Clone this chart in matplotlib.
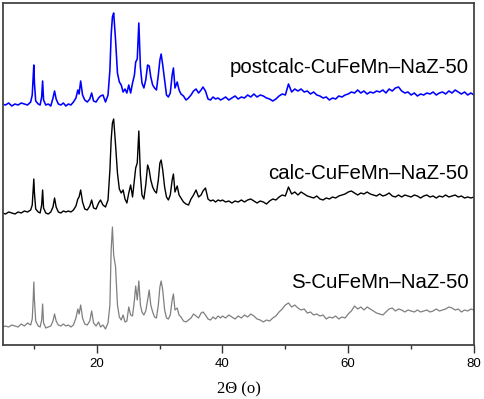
import numpy as np
import matplotlib
matplotlib.use("Agg")
import matplotlib.pyplot as plt
from matplotlib.ticker import MultipleLocator

# ---- data (2-theta in degrees, intensity in arbitrary offset units) ----
two_theta_low = [
    5.0, 5.5, 6.0, 6.5, 7.0, 7.5, 8.0, 8.5, 9.0, 9.5,
    9.75, 9.9, 10.0, 10.1, 10.3, 10.7, 11.0, 11.25, 11.4, 11.55,
    11.9, 12.3, 12.7, 13.05, 13.3, 13.55, 13.9, 14.3, 14.7, 15.1,
    15.5, 15.9, 16.3, 16.7, 17.0, 17.2, 17.45, 17.75, 18.1, 18.5,
    18.9, 19.2, 19.5, 19.9, 20.3, 20.6, 21.0, 21.4, 21.8, 22.1,
    22.3, 22.5, 22.7, 23.0, 23.3, 23.6, 23.9, 24.2, 24.5, 24.8,
    25.1, 25.4, 25.7, 26.0, 26.2, 26.45, 26.7, 26.95, 27.2, 27.5,
    27.8, 28.1, 28.35, 28.6, 28.9, 29.2, 29.5, 29.8, 30.05, 30.25,
    30.5, 30.8, 31.1, 31.4, 31.7, 32.0, 32.2, 32.45, 32.8, 33.1,
    33.4, 33.8, 34.2, 34.6, 35.0, 35.4, 35.8, 36.2, 36.6, 36.9,
    37.3, 37.7, 38.1, 38.5, 38.9, 39.3, 39.7,
]
two_theta_high = [
    40.0, 40.5, 41.0, 41.5, 42.0, 42.5, 43.0, 43.5, 44.0, 44.5,
    45.0, 45.5, 46.0, 46.5, 47.0, 47.5, 48.0, 48.5, 49.0, 49.5,
    50.0, 50.5, 51.0, 51.5, 52.0, 52.5, 53.0, 53.5, 54.0, 54.5,
    55.0, 55.5, 56.0, 56.5, 57.0, 57.5, 58.0, 58.5, 59.0, 59.5,
    60.0, 60.5, 61.0, 61.5, 62.0, 62.5, 63.0, 63.5, 64.0, 64.5,
    65.0, 65.5, 66.0, 66.5, 67.0, 67.5, 68.0, 68.5, 69.0, 69.5,
    70.0, 70.5, 71.0, 71.5, 72.0, 72.5, 73.0, 73.5, 74.0, 74.5,
    75.0, 75.5, 76.0, 76.5, 77.0, 77.5, 78.0, 78.5, 79.0, 79.5,
    80.0,
]

s_low = [
    18, 19, 18, 20, 19, 18, 21, 19, 22, 20,
    26, 45, 63, 45, 24, 19, 18, 25, 41, 22,
    17, 18, 19, 24, 31, 24, 20, 19, 21, 19,
    20, 18, 20, 27, 36, 31, 40, 27, 21, 20,
    24, 34, 22, 19, 23, 18, 20, 16, 22, 40,
    95, 118, 90, 78, 40, 28, 25, 30, 23, 24,
    38, 30, 29, 45, 59, 45, 64, 40, 33, 30,
    34, 45, 55, 40, 33, 28, 27, 40, 58, 64,
    55, 35, 27, 26, 30, 45, 51, 35, 37, 30,
    28, 24, 23, 25, 27, 31, 29, 27, 32, 33,
    30, 26, 25, 28, 26, 29, 27,
]
s_high = [
    29, 27, 30, 28, 26, 29, 27, 30, 28, 31,
    29, 26, 25, 23, 25, 24, 27, 29, 33, 36,
    40, 42, 38, 40, 37, 35, 36, 32, 33, 30,
    31, 29, 30, 26, 28, 27, 29, 26, 28, 27,
    31, 34, 39, 36, 38, 35, 38, 36, 34, 32,
    31, 30, 33, 36, 37, 34, 36, 35, 33, 35,
    34, 33, 35, 33, 34, 35, 33, 34, 36, 34,
    35, 36, 38, 37, 35, 36, 33, 35, 34, 36,
    35,
]

calc_low = [
    132, 131, 133, 132, 131, 133, 132, 134, 133, 135,
    140, 155, 166, 152, 136, 133, 132, 140, 155, 137,
    132, 131, 133, 138, 147, 138, 133, 132, 134, 133,
    134, 133, 135, 139, 146, 148, 155, 143, 136, 135,
    139, 145, 137, 136, 142, 145, 140, 138, 145, 175,
    205, 222, 226, 200, 172, 156, 152, 155, 146, 142,
    152, 160, 148, 165, 177, 182, 214, 170, 150, 146,
    160, 180, 175, 165, 158, 154, 152, 165, 182, 185,
    175, 158, 148, 145, 150, 165, 171, 153, 159, 150,
    147, 143, 141, 140, 146, 150, 155, 148, 150, 154,
    157, 146, 144, 145, 143, 145, 144,
]
calc_high = [
    145, 143, 144, 142, 144, 143, 145, 143, 145, 146,
    144, 142, 144, 143, 141, 144, 146, 145, 148, 150,
    149, 158, 151, 153, 150, 153, 151, 149, 148, 147,
    149, 146, 145, 147, 146, 148, 147, 149, 150, 151,
    153, 154, 152, 150, 152, 151, 153, 151, 150, 149,
    151, 149, 150, 152, 149, 148, 150, 148, 150, 149,
    148, 150, 149, 147, 149, 150, 148, 149, 147, 149,
    148, 150, 148, 149, 150, 148, 149, 147, 148, 147,
    148,
]

post_low = [
    241, 240, 242, 239, 241, 240, 242, 241, 240, 243,
    250, 268, 280, 262, 244, 241, 240, 248, 264, 245,
    240, 241, 239, 247, 254, 246, 241, 240, 242, 239,
    241, 240, 243, 247, 255, 251, 264, 250, 245, 243,
    246, 252, 244, 243, 247, 249, 250, 243, 250, 275,
    310, 328, 332, 305, 272, 263, 260, 253, 256, 252,
    260, 252, 262, 270, 283, 286, 322, 278, 262, 257,
    265, 280, 279, 268, 260, 257, 255, 270, 285, 291,
    280, 265, 250, 248, 252, 270, 277, 257, 263, 255,
    251, 249, 245, 247, 250, 254, 256, 252, 255, 258,
    254, 246, 245, 248, 246, 247, 245,
]
post_high = [
    246, 248, 245, 247, 249, 246, 248, 247, 250, 248,
    251, 248, 250, 249, 247, 246, 244, 246, 249, 251,
    250, 261, 253, 256, 254, 256, 253, 254, 251, 253,
    250, 249, 247, 248, 245, 247, 246, 249, 248, 250,
    251, 253, 252, 255, 252, 254, 251, 253, 252, 254,
    253, 255, 252, 256, 254, 257, 258, 254, 252, 253,
    250, 252, 249, 251, 250, 252, 251, 253, 250, 252,
    253, 251, 254, 252, 255, 253, 251, 253, 250, 252,
    250,
]

labels = ["postcalc-CuFeMn\u2013NaZ-50", "calc-CuFeMn\u2013NaZ-50", "S-CuFeMn\u2013NaZ-50"]
label_y = [272, 166, 57]

# ---- figure ----
W, H = 484, 399
fig = plt.figure(figsize=(W / 100, H / 100), dpi=100)
ax = fig.add_axes([3 / W, 1 - 345 / H, 471 / W, 342 / H])

x = np.array(two_theta_low + two_theta_high)
traces = [
    (post_low + post_high, "#0000ff", 1.15),
    (calc_low + calc_high, "#000000", 1.0),
    (s_low + s_high, "#7f7f7f", 0.9),
]
for y, c, lw in traces:
    assert len(y) == len(x), (len(y), len(x))
    ax.plot(x, np.array(y), color=c, lw=lw)

for lab, ly in zip(labels, label_y):
    ax.text(79.1, ly, lab, ha="right", va="baseline", fontsize=14.7,
            family="Liberation Sans", color="black")

ax.set_xlim(5.1, 80)
ax.set_ylim(0, 342)
ax.set_yticks([])
ax.xaxis.set_major_locator(MultipleLocator(20))
ax.xaxis.set_minor_locator(MultipleLocator(10))
ax.tick_params(axis="x", which="major", direction="out", length=5.5, width=1.0,
               color="#333333", labelsize=9.5, pad=4)
ax.tick_params(axis="x", which="minor", direction="out", length=3, width=1.0,
               color="#333333")
for lbl in ax.get_xticklabels():
    lbl.set_family("Liberation Sans")
for sp in ax.spines.values():
    sp.set_linewidth(1.3)
    sp.set_color("#444444")

ax.set_xlabel("2\u0398 (o)", family="Liberation Serif", fontsize=12, labelpad=8)

fig.savefig("out.png", dpi=100)
